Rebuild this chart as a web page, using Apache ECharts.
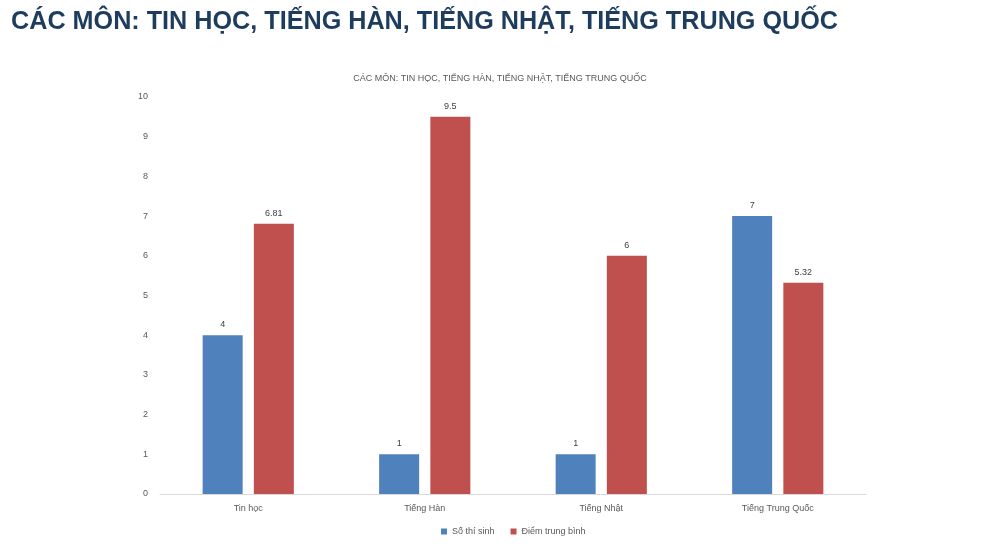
<!DOCTYPE html>
<html><head><meta charset="utf-8">
<script src="https://cdn.jsdelivr.net/npm/echarts@6/dist/echarts.min.js"></script>
<style>html,body{margin:0;padding:0;background:#fff;}#c{width:1000px;height:545px;}</style>
</head><body><div id="c"></div>
<script>
const categories = ['Tin học', 'Tiếng Hàn', 'Tiếng Nhật', 'Tiếng Trung Quốc'];
const soThiSinh = [4, 1, 1, 7];
const diemTrungBinh = [6.81, 9.5, 6, 5.32];
const yTicks = [0, 1, 2, 3, 4, 5, 6, 7, 8, 9, 10];

const chart = echarts.init(document.getElementById('c'));
const lbl = {show: true, position: 'top', color: '#404040', fontSize: 9, fontFamily: 'Liberation Sans', distance: 6};
chart.setOption({
  animation: false,
  title: [
    {text: 'CÁC MÔN: TIN HỌC, TIẾNG HÀN, TIẾNG NHẬT, TIẾNG TRUNG QUỐC', left: 6, top: 5,
     textStyle: {fontFamily: 'Liberation Sans', fontWeight: 'bold', fontSize: 25.2, color: '#1e3d5e'}},
    {text: 'CÁC MÔN: TIN HỌC, TIẾNG HÀN, TIẾNG NHẬT, TIẾNG TRUNG QUỐC', left: 'center', top: 69,
     textStyle: {fontFamily: 'Liberation Sans', fontWeight: 'normal', fontSize: 9, color: '#595959'}}
  ],
  legend: {bottom: 4, left: 436, itemWidth: 6, itemHeight: 6, itemGap: 16, icon: 'rect',
    textStyle: {fontFamily: 'Liberation Sans', fontSize: 9, color: '#595959'}},
  grid: {left: 160, right: 134, top: 97, bottom: 51, containLabel: false},
  xAxis: {type: 'category', data: categories,
    axisLine: {lineStyle: {color: '#d9d9d9'}}, axisTick: {show: false},
    axisLabel: {color: '#595959', fontSize: 9, fontFamily: 'Liberation Sans', margin: 10}},
  yAxis: {type: 'value', min: yTicks[0], max: yTicks[yTicks.length - 1], interval: 1,
    axisLine: {show: false}, axisTick: {show: false}, splitLine: {show: false},
    axisLabel: {color: '#595959', fontSize: 9, fontFamily: 'Liberation Sans', margin: 12}},
  series: [
    {name: 'Số thí sinh', type: 'bar', data: soThiSinh, barWidth: 40, barGap: '28%',
     itemStyle: {color: '#4f81bd'}, label: lbl},
    {name: 'Điểm trung bình', type: 'bar', data: diemTrungBinh, barWidth: 40,
     itemStyle: {color: '#c0504d'}, label: lbl}
  ]
});
</script></body></html>
